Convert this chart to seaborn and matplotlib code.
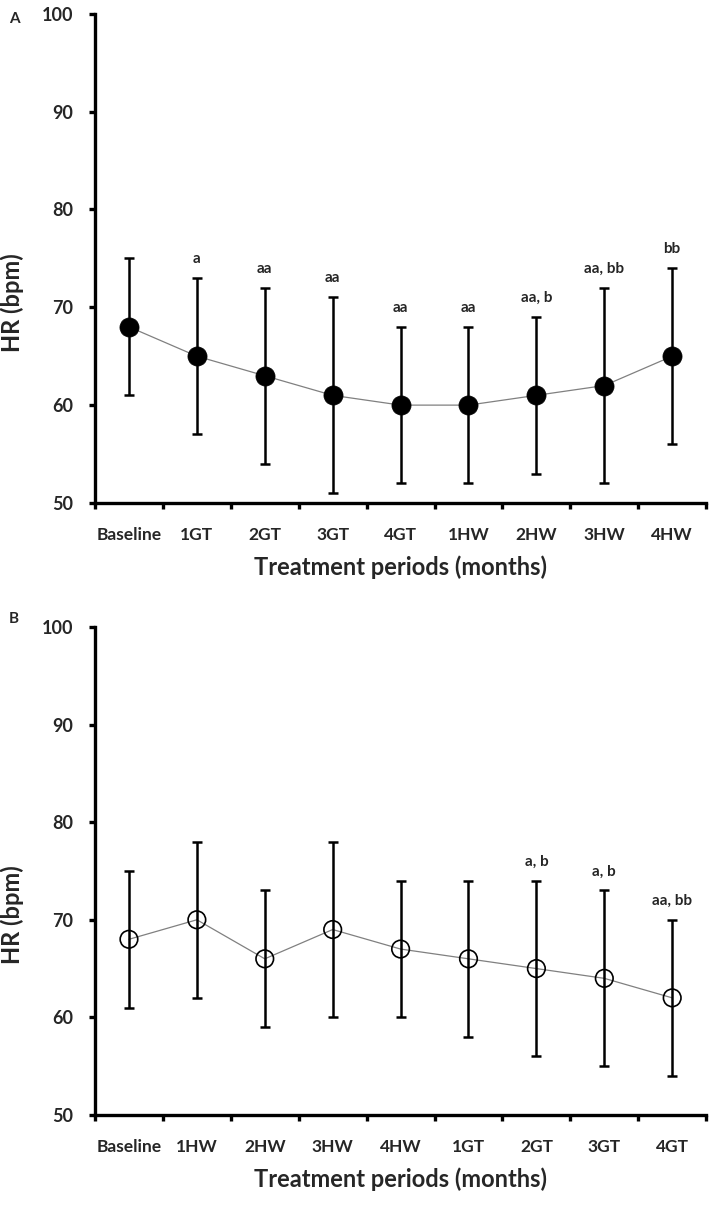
import numpy as np
import pandas as pd
import matplotlib
matplotlib.use("Agg")
import matplotlib.pyplot as plt
import seaborn as sns

sns.set_theme(style="white")
plt.rcParams['font.family'] = ['Lato', 'DejaVu Sans']
plt.rcParams['font.weight'] = 'bold'

# ---- data ----
cats_a = ["Baseline", "1GT", "2GT", "3GT", "4GT", "1HW", "2HW", "3HW", "4HW"]
mean_a = [68, 65, 63, 61, 60, 60, 61, 62, 65]
upper_a = [75, 73, 72, 71, 68, 68, 69, 72, 74]
lower_a = [61, 57, 54, 51, 52, 52, 53, 52, 56]
notes_a = ["", "a", "aa", "aa", "aa", "aa", "aa, b", "aa, bb", "bb"]

cats_b = ["Baseline", "1HW", "2HW", "3HW", "4HW", "1GT", "2GT", "3GT", "4GT"]
mean_b = [68, 70, 66, 69, 67, 66, 65, 64, 62]
upper_b = [75, 78, 73, 78, 74, 74, 74, 73, 70]
lower_b = [61, 62, 59, 60, 60, 58, 56, 55, 54]
notes_b = ["", "", "", "", "", "", "a, b", "a, b", "aa, bb"]

y_ticks = [50, 60, 70, 80, 90, 100]

fig = plt.figure(figsize=(7.09, 12.05), dpi=100)
ax_a = fig.add_axes([0.134, 0.5826, 0.862, 0.406])
ax_b = fig.add_axes([0.134, 0.0747, 0.862, 0.405])


def draw(ax, cats, mean, upper, lower, notes, filled):
    pos = np.arange(len(cats))
    df = pd.DataFrame({"pos": pos, "mean": mean, "upper": upper, "lower": lower})
    sns.lineplot(data=df, x="pos", y="mean", ax=ax, color="#808080",
                 linewidth=0.9, zorder=2, sort=False)
    ax.errorbar(df["pos"], df["mean"],
                yerr=[df["mean"] - df["lower"], df["upper"] - df["mean"]],
                fmt="none", ecolor="black", elinewidth=1.8, capsize=3.3,
                capthick=1.8, zorder=3)
    if filled:
        sns.scatterplot(data=df, x="pos", y="mean", ax=ax, s=190,
                        color="black", edgecolor="black", linewidth=0.5,
                        zorder=4)
    else:
        sns.scatterplot(data=df, x="pos", y="mean", ax=ax, s=160,
                        facecolor="none", edgecolor="black", linewidth=1.2,
                        zorder=4)
    for i, t in enumerate(notes):
        if t:
            ax.text(pos[i], upper[i] + 1.55, t, ha="center", va="baseline",
                    fontsize=11, fontweight="bold")
    ax.set_xlim(-0.5, len(cats) - 0.5)
    ax.set_ylim(50, 100)
    ax.set_yticks(y_ticks)
    ax.set_yticklabels([str(v) for v in y_ticks], fontsize=13, fontweight="bold")
    ax.set_xticks(np.arange(len(cats) + 1) - 0.5)
    ax.set_xticklabels([])
    ax.set_xticks(pos, minor=True)
    ax.set_xticklabels(cats, minor=True, fontsize=12.5, fontweight="bold")
    ax.tick_params(axis="x", which="minor", length=0, pad=17)
    ax.tick_params(axis="both", which="major", direction="out", length=4.5,
                   width=2.4, color="black", left=True, bottom=True)
    ax.tick_params(axis="y", pad=11)
    ax.set_xlabel("Treatment periods (months)", fontsize=17, fontweight="bold")
    ax.xaxis.set_label_coords(0.5, -0.108)
    ax.set_ylabel("HR (bpm)", fontsize=17, fontweight="bold")
    ax.yaxis.set_label_coords(-0.117, 0.41)
    for s in ["top", "right"]:
        ax.spines[s].set_visible(False)
    for s in ["left", "bottom"]:
        ax.spines[s].set_linewidth(2.4)
        ax.spines[s].set_color("black")
    ax.grid(False)


draw(ax_a, cats_a, mean_a, upper_a, lower_a, notes_a, True)
draw(ax_b, cats_b, mean_b, upper_b, lower_b, notes_b, False)

fig.text(14 / 709, 1 - 19 / 1205, "A", fontsize=11, fontweight="bold",
         ha="center", va="center")
fig.text(14 / 709, 1 - 619 / 1205, "B", fontsize=11, fontweight="bold",
         ha="center", va="center")

fig.savefig("out.png", dpi=100)
